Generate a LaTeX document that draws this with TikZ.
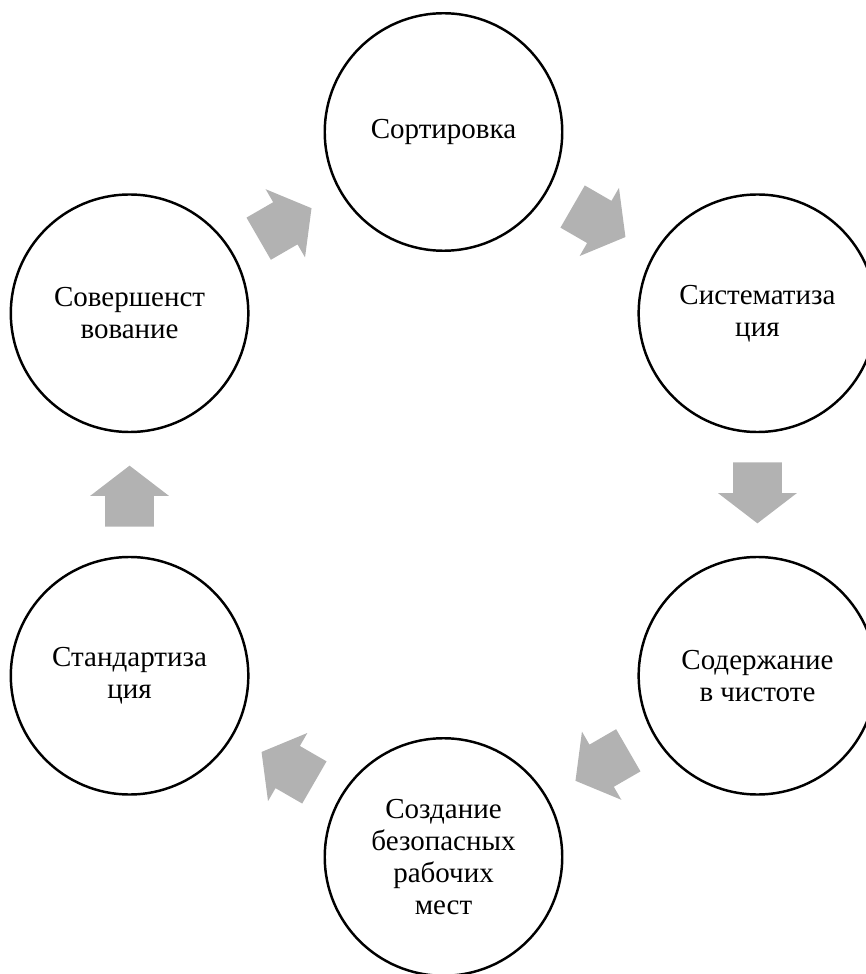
\documentclass[tikz,border=0pt]{standalone}
\usepackage{fontspec}
\setmainfont{Liberation Serif}
\usepackage{tikz}
\usetikzlibrary{shapes.arrows,calc}

\begin{document}
\begin{tikzpicture}[
    stage/.style={circle,draw,line width=1.4pt,minimum size=4.75cm,inner sep=0pt,
      align=center,font=\fontsize{16.5}{18.2}\selectfont},
    flow/.style={single arrow,fill=black!30,draw=none,inner xsep=0pt,inner ysep=0.48cm,
      minimum height=1.22cm,single arrow head extend=0.3cm,single arrow tip angle=105}]
    \useasboundingbox (-8.87,9.89) rectangle (8.45,-9.59);

    \node[stage] (sort) at (90:7.25) {Сортировка};
    \node[stage] (sist) at (30:7.25) {Систематиза\\ция};
    \node[stage] (sod) at (-30:7.25) {Содержание\\в чистоте};
    \node[stage] (soz) at (-90:7.25) {Создание\\безопасных\\рабочих\\мест};
    \node[stage] (stand) at (210:7.25) {Стандартиза\\ция};
    \node[stage] (sov) at (150:7.25) {Совершенст\\вование};

    % arrows between the stages
    \node[flow,rotate=-30,xshift=-0.22cm] (a1) at ($(sort)!0.5!(sist)$) {};
    \node[flow,rotate=-90,xshift=-0.22cm] (a2) at ($(sist)!0.5!(sod)$) {};
    \node[flow,rotate=210,xshift=-0.22cm] (a3) at ($(sod)!0.5!(soz)$) {};
    \node[flow,rotate=150,xshift=-0.22cm] (a4) at ($(soz)!0.5!(stand)$) {};
    \node[flow,rotate=90,xshift=-0.22cm] (a5) at ($(stand)!0.5!(sov)$) {};
    \node[flow,rotate=30,xshift=-0.22cm] (a6) at ($(sov)!0.5!(sort)$) {};
  \end{tikzpicture}
\end{document}
